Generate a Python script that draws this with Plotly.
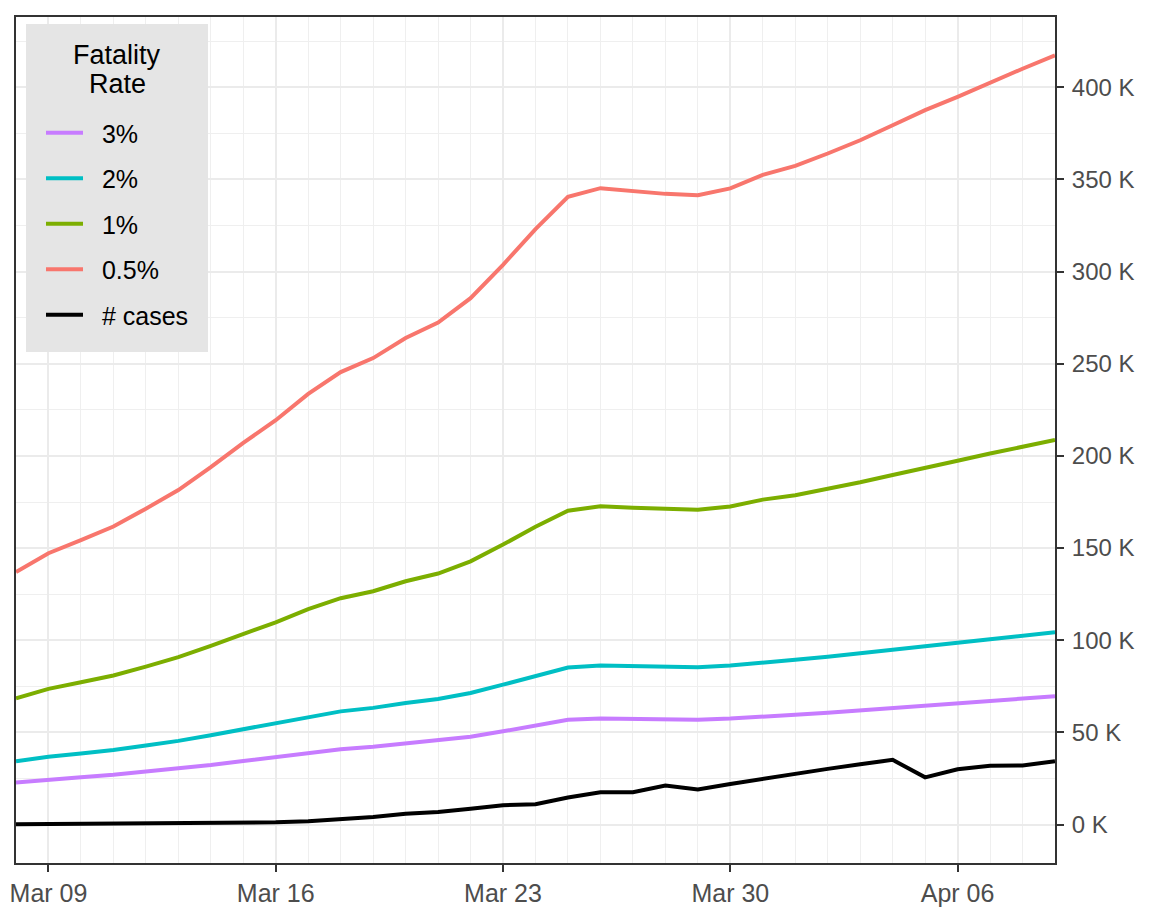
import plotly.graph_objects as go
import pandas as pd

# ---- data (values in thousands) ----
dates = pd.date_range("2020-03-08", "2020-04-09", freq="D").strftime("%Y-%m-%d").tolist()

rate_0_5 = [137.0, 147.2, 154.3, 161.7, 171.4, 181.5, 193.9, 207.1, 219.4, 233.7,
            245.5, 253.1, 264.0, 272.4, 285.6, 303.7, 323.1, 340.6, 345.3, 343.8,
            342.2, 341.5, 345.2, 352.5, 357.4, 364.1, 371.3, 379.4, 387.6, 394.8,
            402.5, 410.1, 417.3]
rate_1 = [68.5, 73.6, 77.2, 80.9, 85.7, 90.8, 97.0, 103.6, 109.7, 116.9,
          122.8, 126.6, 132.0, 136.2, 142.8, 151.9, 161.6, 170.3, 172.7, 171.9,
          171.1, 170.8, 172.6, 176.3, 178.7, 182.1, 185.7, 189.7, 193.8, 197.4,
          201.3, 205.1, 208.7]
rate_2 = [34.3, 36.8, 38.6, 40.4, 42.9, 45.4, 48.5, 51.8, 54.9, 58.4,
          61.4, 63.3, 66.0, 68.1, 71.4, 75.9, 80.8, 85.2, 86.3, 86.0,
          85.6, 85.4, 86.3, 88.1, 89.4, 91.0, 92.8, 94.9, 96.9, 98.7,
          100.6, 102.5, 104.3]
rate_3 = [22.8, 24.5, 25.7, 27.0, 28.6, 30.3, 32.3, 34.5, 36.6, 39.0,
          40.9, 42.2, 44.0, 45.4, 47.6, 50.6, 53.9, 56.8, 57.6, 57.3,
          57.0, 56.9, 57.5, 58.8, 59.6, 60.7, 61.9, 63.2, 64.6, 65.8,
          67.1, 68.4, 69.6]
cases = [0.1, 0.2, 0.3, 0.4, 0.5, 0.6, 0.7, 1.0, 1.2, 1.8,
         2.7, 4.1, 5.8, 6.8, 8.6, 10.5, 11.0, 14.7, 17.5, 17.5,
         21.2, 19.0, 22.0, 24.8, 27.7, 30.2, 32.7, 35.1, 25.6, 30.0,
         31.9, 32.0, 34.3]

series_names = ["3%", "2%", "1%", "0.5%", "# cases"]
series_values = [rate_3, rate_2, rate_1, rate_0_5, cases]
series_colors = ["#C77CFF", "#00BFC4", "#7CAE00", "#F8766D", "#000000"]
legend_title_lines = ["Fatality", "Rate"]

NB = "\u00a0"

fig = go.Figure()
for name, vals, col in zip(series_names, series_values, series_colors):
    fig.add_trace(go.Scatter(
        x=dates, y=vals, mode="lines", name=NB * 2 + name, legendgroup=name,
        line=dict(color=col, width=4),
    ))

ymax = max(rate_0_5)
pad = 0.05 * ymax

# page body has an 8px margin; size the figure so it fits the window
W, H = 1144, 913
ml, mr, mt, mb = 8, 97, 9, 58
OFF = 8
PL, PR, PT, PB = ml + OFF, W - mr + OFF, mt + OFF, H - mb + OFF  # screen px of plot area


def px_x(sx):
    return (sx - PL) / (PR - PL)


def px_y(sy):
    return (PB - sy) / (PB - PT)


# legend background box and centred two-line title
fig.add_shape(type="rect", xref="paper", yref="paper",
              x0=px_x(26), x1=px_x(208), y0=px_y(352), y1=px_y(24),
              fillcolor="#E5E5E5", line=dict(width=0), layer="above")
for txt, sy in zip(legend_title_lines, [55, 84]):
    fig.add_annotation(text=txt, xref="paper", yref="paper", x=px_x(117), y=px_y(sy),
                       xanchor="center", yanchor="middle", showarrow=False,
                       font=dict(size=27, color="black"))

fig.update_layout(
    width=W, height=H,
    margin=dict(l=ml, r=mr, t=mt, b=mb, autoexpand=False),
    paper_bgcolor="white", plot_bgcolor="white",
    font=dict(family="Liberation Sans, Arial, sans-serif", color="#4D4D4D"),
    showlegend=True,
    legend=dict(
        x=px_x(41), y=px_y(110), xanchor="left", yanchor="top",
        bgcolor="rgba(0,0,0,0)", borderwidth=0,
        font=dict(size=25, color="black"),
        tracegroupgap=10, itemwidth=37,
    ),
    xaxis=dict(
        type="date", range=[dates[0], dates[-1]],
        tick0="2020-03-09", dtick=7 * 86400000, tickformat="%b %d",
        showgrid=True, gridcolor="#EBEBEB", gridwidth=2,
        minor=dict(dtick=86400000, tick0="2020-03-08", showgrid=True,
                   gridcolor="#EFEFEF", gridwidth=1, ticks=""),
        ticks="outside", ticklen=7, tickwidth=2, tickcolor="#333333",
        tickfont=dict(size=25, color="#4D4D4D"),
        showline=True, linecolor="#333333", linewidth=2, mirror=True,
        zeroline=False, ticklabelstandoff=0,
    ),
    yaxis=dict(
        side="right", range=[-pad, ymax + pad],
        tick0=0, dtick=50, ticksuffix=" K",
        showgrid=True, gridcolor="#EBEBEB", gridwidth=2,
        minor=dict(dtick=25, tick0=0, showgrid=True,
                   gridcolor="#EFEFEF", gridwidth=1, ticks=""),
        ticks="outside", ticklen=7, tickwidth=2, tickcolor="#333333",
        tickfont=dict(size=24, color="#4D4D4D"),
        showline=True, linecolor="#333333", linewidth=2, mirror=True,
        zeroline=False, ticklabelstandoff=3,
    ),
)

fig.write_html("out.html")
